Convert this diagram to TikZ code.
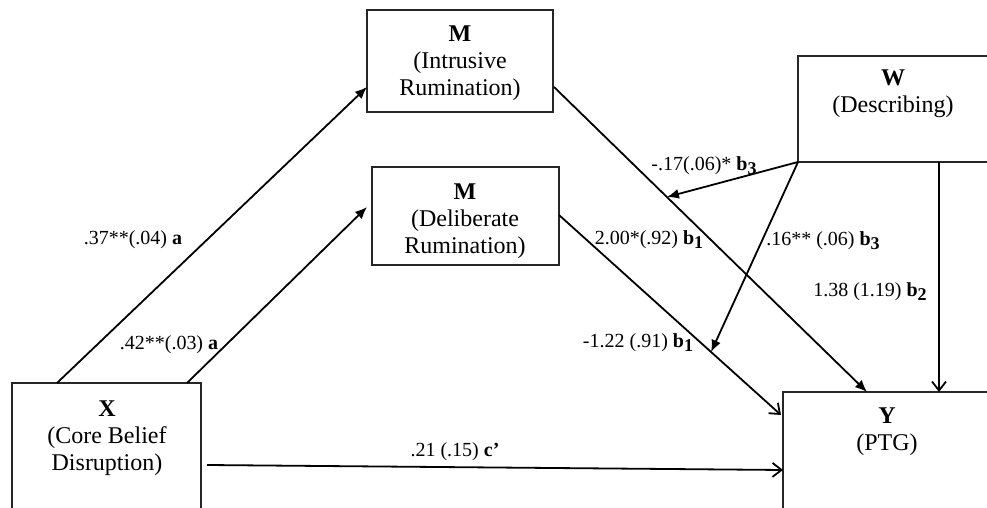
\documentclass[tikz,border=0pt]{standalone}
\usepackage{fontspec}
\setmainfont{Liberation Serif}
\usetikzlibrary{arrows.meta,calc}
\newcommand\bsubx[1]{\textbf{b\raisebox{-0.35ex}{\fontsize{9}{9}\selectfont #1}}}
\begin{document}
\begin{tikzpicture}[x=0.5pt,y=-0.5pt,
  box/.style={draw=black!85, line width=0.7pt, rectangle, inner sep=0pt, outer sep=0pt, anchor=north west},
  btxt/.style={align=center, anchor=north, inner sep=0pt, font=\fontsize{12}{13.5}\selectfont},
  lab/.style={inner sep=0pt, font=\fontsize{10}{12}\selectfont},
  arr/.style={line width=0.9pt, -{Latex[length=6pt,width=5pt]}},
  oarr/.style={line width=0.9pt, -{Straight Barb[length=4.5pt,width=7pt]}}]
\useasboundingbox (0,0) rectangle (987,508);
\clip (0,0) rectangle (987,508);

% boxes
\node[box, minimum width=94.5pt, minimum height=80pt] (X) at (12,383) {};
\node[box, minimum width=93pt, minimum height=51pt] (I) at (367,10) {};
\node[box, minimum width=93.5pt, minimum height=49pt] (D) at (372,167) {};
\node[box, minimum width=101pt, minimum height=53pt] (W) at (798,56) {};
\node[box, minimum width=108.5pt, minimum height=69pt] (Y) at (783,392) {};

% box texts
\node[btxt] (Xt) at (107,400) {\textbf{X}\\(Core Belief\\Disruption)};
\node[btxt] (It) at (460,25) {\textbf{M}\\(Intrusive\\Rumination)};
\node[btxt] (Dt) at (465,183) {\textbf{M}\\(Deliberate\\Rumination)};
\node[btxt] (Wt) at (893,69) {\textbf{W}\\(Describing)};
\node[btxt] (Yt) at (887,407) {\textbf{Y}\\(PTG)};

% key points
\coordinate (x1) at ($(X.north west)+(45,0)$);
\coordinate (x2) at ($(X.north west)+(175,0)$);
\coordinate (i1) at ($(I.north west)+(0,77)$);
\coordinate (d1) at ($(D.north west)+(-5,40)$);
\coordinate (i2) at ($(I.north east)+(1,77)$);
\coordinate (y1) at ($(Y.north west)+(84,0)$);
\coordinate (d2) at ($(D.north east)+(0,48)$);
\coordinate (y2) at ($(Y.north west)+(-2,23)$);
\coordinate (w2) at ($(W.south west)+(141,0)$);
\coordinate (y3) at ($(Y.north west)+(156,0)$);
\coordinate (x3) at ($(X.north east)+(6,82)$);
\coordinate (y4) at ($(Y.north west)+(0,78)$);

% connectors
\draw[arr] (x1) -- (i1);
\draw[arr] (x2) -- (d1);
\draw[arr] (i2) -- (y1) coordinate[pos=0.3607] (m1);
\draw[oarr] (d2) -- (y2) coordinate[pos=0.685] (m2);
\draw[arr] (W.south west) -- (m1);
\draw[arr] (W.south west) -- (m2);
\draw[oarr] (w2) -- (y3);
\draw[oarr] (x3) -- (y4);

% labels
\node[lab] (la1) at (133,240) {.37**(.04) \textbf{a}};
\node[lab] (la2) at (169,345) {.42**(.03) \textbf{a}};
\node[lab] (lb3a) at (704,166) {-.17(.06)* \bsubx{3}};
\node[lab] (lb1a) at (649,240) {2.00*(.92) \bsubx{1}};
\node[lab] (lb3b) at (823,241) {.16** (.06) \bsubx{3}};
\node[lab] (lb2) at (870,292) {1.38 (1.19) \bsubx{2}};
\node[lab] (lb1b) at (638,343) {-1.22 (.91) \bsubx{1}};
\node[lab] (lc) at (455,452) {.21 (.15) \textbf{c’}};
\end{tikzpicture}
\end{document}
